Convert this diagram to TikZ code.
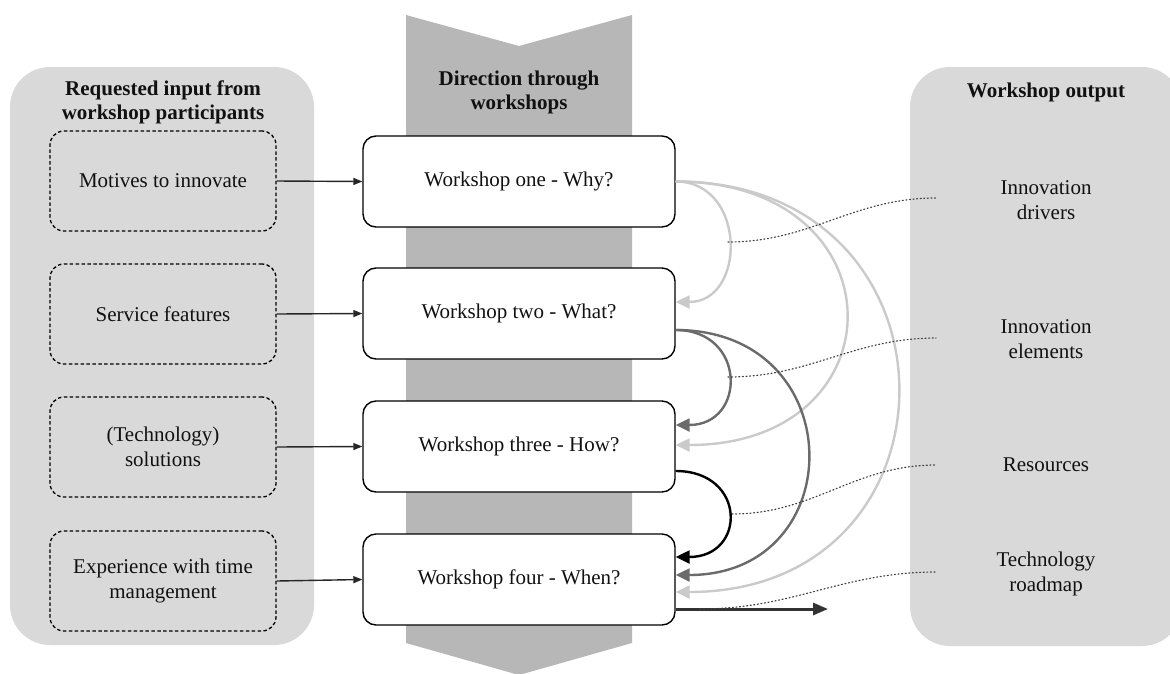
\documentclass[tikz,border=0pt]{standalone}
\usepackage{fontspec}
\setmainfont{Liberation Serif}
\usetikzlibrary{arrows.meta}
\definecolor{panelgray}{HTML}{D9D9D9}
\definecolor{columngray}{HTML}{B7B7B7}
\definecolor{lightflow}{HTML}{CACACA}
\definecolor{darkflow}{HTML}{6B6B6B}
\definecolor{textdark}{HTML}{111111}
\begin{document}
\begin{tikzpicture}[x=1pt,y=-1pt,
  txt/.style={font=\fontsize{21}{25}\selectfont, text=textdark, align=center},
  head/.style={txt, font=\fontsize{21}{24}\selectfont\bfseries},
  panel/.style={fill=panelgray, draw=none, rounded corners=40pt},
  inbox/.style={txt, draw=black, line width=1.3pt, dash pattern=on 3.5pt off 2.4pt,
    rounded corners=14pt, minimum width=226pt, minimum height=100pt, inner sep=0pt},
  wsbox/.style={txt, draw=black, line width=1.4pt, fill=white, rounded corners=13pt,
    minimum width=312pt, minimum height=91pt, inner sep=0pt},
  feed/.style={draw=black!85, line width=1.4pt, -{Triangle[length=9pt,width=7pt]}},
  flow/.style={line width=2.4pt, -{Triangle[length=14pt,width=13pt]}},
  note/.style={draw=black!75, line width=1.2pt, dash pattern=on 1pt off 2.6pt, line cap=round}
]
\useasboundingbox (0,0) rectangle (1170,673);

% side panels
\fill[panel] (10,67) rectangle (314,645);
\fill[panel] (910,67) rectangle (1182,646);

% direction column
\fill[columngray] (406,15) -- (519,46) -- (632,15) -- (632,643) -- (519,675) -- (406,643) -- cycle;

% headings
\node[head] (hin) at (163,102) {Requested input from\\workshop participants};
\node[head] (hdir) at (519,92) {Direction through\\workshops};
\node[head] (hout) at (1046,92) {Workshop output};

% requested input
\node[inbox] (in1) at (163,181) {Motives to innovate};
\node[inbox] (in2) at (163,314) {Service features};
\node[inbox] (in3) at (163,447) {(Technology)\\solutions};
\node[inbox] (in4) at (163,581) {Experience with time\\management};

% workshops
\node[wsbox] (w1) at (519,181.5) {Workshop one - Why?};
\node[wsbox] (w2) at (519,313.5) {Workshop two - What?};
\node[wsbox] (w3) at (519,446.5) {Workshop three - How?};
\node[wsbox] (w4) at (519,579.5) {Workshop four - When?};

% outputs
\node[txt] (o1) at (1046,200) {Innovation\\drivers};
\node[txt] (o2) at (1046,339) {Innovation\\elements};
\node[txt] (o3) at (1046,465) {Resources};
\node[txt] (o4) at (1046,574) {Technology\\roadmap};

% input arrows
\draw[feed] (in1.east) -- (w1.west);
\draw[feed] (in2.east) -- (w2.west);
\draw[feed] (in3.east) -- (w3.west);
\draw[feed] (in4.east) -- (w4.west);

% attachment points on the workshop boxes
\coordinate (w2in)  at ([yshift=11.5pt]w2.east);
\coordinate (w2out) at ([yshift=-16.5pt]w2.east);
\coordinate (w3inA) at ([yshift=21.5pt]w3.east);
\coordinate (w3inB) at ([yshift=1.5pt]w3.east);
\coordinate (w3out) at ([yshift=-24.5pt]w3.east);
\coordinate (w4inA) at ([yshift=22.5pt]w4.east);
\coordinate (w4inB) at ([yshift=4.5pt]w4.east);
\coordinate (w4inC) at ([yshift=-12.5pt]w4.east);
\coordinate (w4out) at ([yshift=-29.5pt]w4.east);
\coordinate (road) at (828,609);

% flows between workshops
\draw[flow, lightflow] (w1.east) .. controls +(296,0) and +(296,0) .. (w4inC);
\draw[flow, lightflow] (w1.east) .. controls +(227,0) and +(227,0) .. (w3inB);
\draw[flow, lightflow] (w1.east) .. controls +(71,0) and +(71,0) .. (w2in);
\draw[flow, darkflow] (w2out) .. controls +(176,0) and +(176,0) .. (w4inB);
\draw[flow, darkflow] (w2out) .. controls +(71,0) and +(71,0) .. (w3inA);
\draw[flow, black] (w3out) .. controls +(71,0) and +(71,0) .. (w4inA);
\draw[line width=3pt, black!80, -{Triangle[length=15pt,width=12pt]}] (w4out) -- (road);

% dotted links to the outputs
\coordinate (a1) at (728,242);
\coordinate (a2) at (728,377);
\coordinate (a3) at (732,514);
\coordinate (a4) at (700,609);
\coordinate (e1) at (936,198);
\coordinate (e2) at (936,338);
\coordinate (e3) at (936,465);
\coordinate (e4) at (936,572);
\draw[note] (a1) to[out=0,in=180] (e1);
\draw[note] (a2) to[out=0,in=180] (e2);
\draw[note] (a3) to[out=0,in=180] (e3);
\draw[note] (a4) to[out=0,in=180] (e4);
\end{tikzpicture}
\end{document}
